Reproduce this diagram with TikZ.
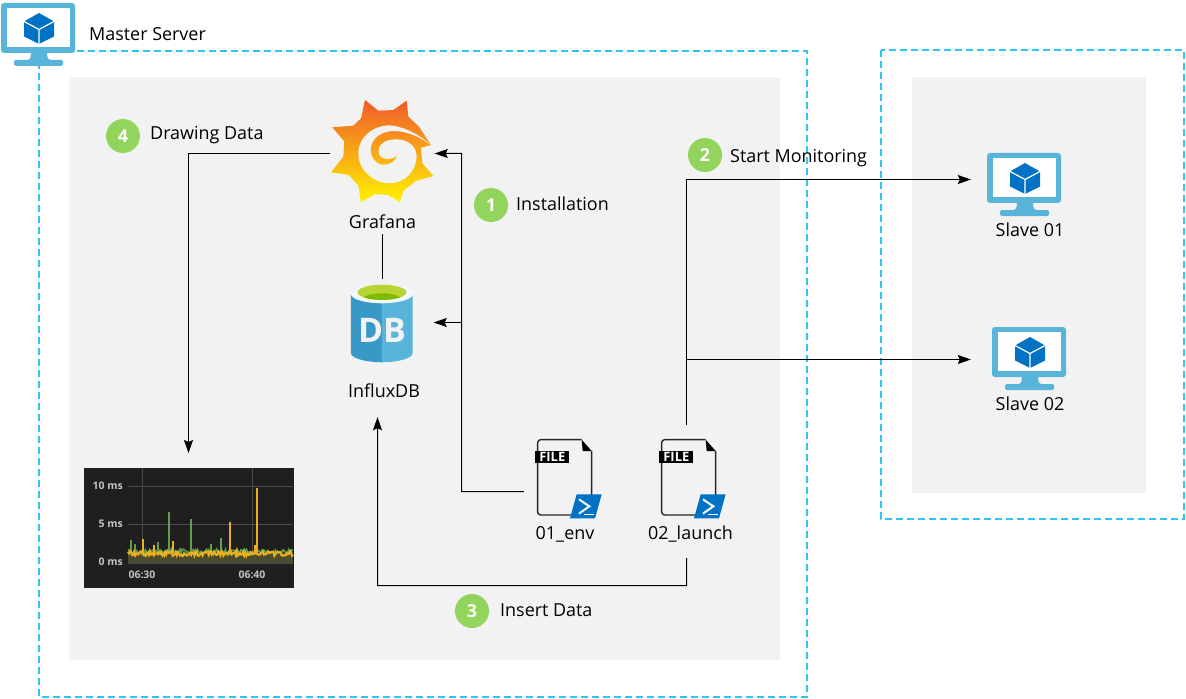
\documentclass[tikz,border=0pt]{standalone}
\usepackage{fontspec}
\setmainfont{Open Sans}
\usetikzlibrary{arrows.meta}
\definecolor{dashc}{HTML}{2FC6F6}
\definecolor{panel}{HTML}{F2F2F2}
\definecolor{azl}{HTML}{59B4D9}
\definecolor{azd}{HTML}{3999C6}
\definecolor{azb}{HTML}{0072C6}
\definecolor{stepg}{HTML}{92D45C}
\definecolor{charbg}{HTML}{1F1F20}
\definecolor{gridc}{HTML}{4A4A4C}
\definecolor{chartx}{HTML}{C4C4C4}
\definecolor{sgreen}{HTML}{5FA04E}
\definecolor{syellow}{HTML}{EAB020}
\definecolor{limeA}{HTML}{B8D432}
\definecolor{limeB}{HTML}{7FBA00}
\definecolor{grafT}{HTML}{F15B2A}
\definecolor{grafM}{HTML}{FBA31C}
\definecolor{grafB}{HTML}{FFF200}
\definecolor{bandc}{HTML}{4C4A2C}
\tikzset{
  dashbox/.style={draw=dashc,line width=1.2bp,dash pattern=on 7bp off 4bp,fill=none},
  panelbox/.style={fill=panel,draw=none},
  arr/.style={draw=black,line width=1bp,-{Stealth[length=13bp,width=9bp,inset=2bp]}},
  link/.style={draw=black,line width=1bp},
  txt/.style={font=\fontsize{18}{20}\selectfont,text=black,inner sep=0pt},
  lab/.style={txt,align=center,minimum width=20bp},
  stepdot/.style={circle,fill=stepg,draw=none,minimum size=34bp,inner sep=0pt,text=white,font=\fontsize{18}{20}\selectfont\bfseries},
  iconbox/.style={draw=none,fill=none,inner sep=0pt},
  ctext/.style={text=chartx,inner sep=0pt,font=\fontsize{10.5}{11}\selectfont\bfseries},
  monitorpic/.pic={
    \fill[azl,rounded corners=3bp] (0,0) rectangle (74,50);
    \fill[white] (6,5) rectangle (69,44);
    \fill[azl] (30,49) -- (46,49) .. controls (46,55) and (47,57) .. (50,57) -- (30,57) -- (26,57) .. controls (29,57) and (30,55) .. (30,49) -- cycle;
    \fill[azl,rounded corners=1.5bp] (13,57) rectangle (62,63);
    \fill[azb] (38,10) -- (53,18.5) -- (53,33.5) -- (38,41) -- (23,33.5) -- (23,18.5) -- cycle;
    \draw[white,line width=1.2bp] (23,18.5) -- (38,26.5) -- (53,18.5) (38,26.5) -- (38,41);
  },
  filepic/.pic={
    \begin{scope}[x=.3333bp,y=-.3333bp]
      \draw[black!85,line width=1.4bp,rounded corners=3bp,line join=round] (155,14) -- (23,14) -- (23,240) -- (185,240) -- (185,48);
      \fill[black] (155,14) -- (185,48) -- (158,48) -- cycle;
      \fill[black] (15,48) rectangle (118,84);
      \node[iconbox,text=white,font=\fontsize{13}{13}\selectfont\bfseries] (badge) at (67,66) {FILE};
      \fill[azb] (140,178) -- (215,178) -- (195,250) -- (120,250) -- cycle;
      \draw[white,line width=2bp] (147,193) -- (178,214) -- (147,236);
      \draw[white,line width=1.6bp] (163,238) -- (193,238);
    \end{scope}
  },
  grafanapic/.pic={
    \begin{scope}[x=.3333bp,y=-.3333bp]
      \shade[top color=grafT,middle color=grafM,bottom color=grafB,line join=round]
        (120,15) -- (160,47) -- (205,45) -- (245,17) -- (250,65) -- (282,95) -- (318,150) -- (288,158) -- (292,205) -- (325,243) -- (272,258) -- (235,288) -- (225,322) -- (190,300) -- (150,297) -- (108,322) -- (100,272) -- (72,240) -- (18,232) -- (55,185) -- (58,140) -- (22,97) -- (85,92) -- (108,70) -- cycle;
      \fill[panel]
        (318,150) .. controls (290,125) and (250,100) .. (205,92)
        .. controls (150,85) and (100,125) .. (100,175)
        .. controls (100,225) and (145,265) .. (195,265)
        .. controls (240,265) and (275,225) .. (275,185)
        .. controls (275,150) and (245,133) .. (212,133)
        .. controls (180,133) and (160,150) .. (160,168)
        .. controls (160,185) and (175,193) .. (190,192)
        .. controls (202,191) and (212,187) .. (216,179)
        .. controls (214,198) and (195,211) .. (172,209)
        .. controls (150,207) and (137,185) .. (137,165)
        .. controls (137,130) and (170,108) .. (207,108)
        .. controls (250,108) and (290,130) .. (318,150) -- cycle;
    \end{scope}
  },
  dbpic/.pic={
    \begin{scope}[x=.3333bp,y=-.3333bp]
      \fill[azd] (93,612) -- (93,790) .. controls (93,805) and (140,817) .. (186,817) -- (186,612) -- cycle;
      \fill[azl] (278,612) -- (278,790) .. controls (278,805) and (232,817) .. (186,817) -- (186,612) -- cycle;
      \fill[white!92!azl] (186,612) ellipse [x radius=31bp,y radius=9.3bp];
      \fill[limeA] (186,607) ellipse [x radius=24.5bp,y radius=7.6bp];
      \begin{scope}
        \clip (186,607) ellipse [x radius=24.5bp,y radius=7.6bp];
        \fill[limeB] (186,631) ellipse [x radius=20bp,y radius=7bp];
      \end{scope}
      \node[iconbox,text=panel,font=\fontsize{34}{34}\selectfont\bfseries] (dbtxt) at (186,720) {DB};
    \end{scope}
  }
}
\begin{document}
\begin{tikzpicture}[x=1bp,y=-1bp]
\useasboundingbox (0,0) rectangle (1186,699);
\fill[white] (0,0) rectangle (1186,699);
% frames
\draw[dashbox] (39,51) rectangle (807,697);
\fill[panelbox] (69,77) rectangle (780,660);
\draw[dashbox] (881,50) rectangle (1184,519);
\fill[panelbox] (912,77) rectangle (1146,493);
% chart
\node[iconbox,fill=charbg,minimum width=210bp,minimum height=120bp] (chart) at (189,528) {};
\begin{scope}
  \draw[gridc,line width=.8bp] (128,486.5) -- (293,486.5) (128,524.5) -- (293,524.5) (128,563.5) -- (293,563.5) (142.5,468) -- (142.5,563) (252.5,468) -- (252.5,563);
  \fill[bandc] (128,553) rectangle (293,563);
  \pgfmathsetseed{4711}
  \draw[sgreen,line width=1.5bp] (169,553) -- (169,512) (191,553) -- (191,519) (221,553) -- (221,538) (131,553) -- (131,540) (158,553) -- (158,542) (211,553) -- (211,544) (135,553) -- (135,544);
  \draw[sgreen,line width=1.5bp] plot[domain=128:293,samples=150] (\x,{551+5*rnd-2});
  \draw[syellow,line width=1.5bp] (257,553) -- (257,488) (230,553) -- (230,522) (143,553) -- (143,539) (173,553) -- (173,541) (154,553) -- (154,545) (255,553) -- (255,545);
  \draw[syellow,line width=2bp] plot[domain=128:293,samples=160] (\x,{553+5*rnd-2});
  \node[ctext,anchor=east] (t10) at (123,486) {10 ms};
  \node[ctext,anchor=east] (t5) at (123,524) {5 ms};
  \node[ctext,anchor=east] (t0) at (123,562) {0 ms};
  \node[ctext] (t630) at (142,575) {06:30};
  \node[ctext] (t640) at (252,575) {06:40};
\end{scope}
% icons
\pic at (1,3) {monitorpic};
\node[iconbox,minimum width=104bp,minimum height=104bp] (grafana) at (382.5,153.5) {};
\pic at (325,95) {grafanapic};
\node[iconbox,minimum width=102bp,minimum height=86bp] (influx) at (382.5,322.5) {};
\pic at (320,90) {dbpic};
\node[iconbox,minimum width=82bp,minimum height=78bp] (env) at (565,479.5) {};
\pic at (530,435) {filepic};
\node[iconbox,minimum width=80bp,minimum height=110bp] (launch) at (686.5,480) {};
\pic at (654,435) {filepic};
\node[iconbox,minimum width=106bp,minimum height=74bp] (slaveA) at (1024,179.5) {};
\pic at (987,153) {monitorpic};
\node[iconbox,minimum width=116bp,minimum height=62bp] (slaveB) at (1029,359.5) {};
\pic at (992,327) {monitorpic};
% labels
\node[txt,anchor=west] (master) at (89,34) {Master Server};
\node[lab,minimum height=24bp] (grafanaL) at (382.5,222) {Grafana};
\node[lab,minimum height=52bp] (influxL) at (384,391) {InfluxDB};
\node[lab] (envL) at (565,534) {01\_env};
\node[lab,minimum height=48bp] (launchL) at (690.5,534) {02\_launch};
\node[lab] (slaveAL) at (1030,230) {Slave 01};
\node[lab] (slaveBL) at (1030,404) {Slave 02};
\node[stepdot] (s4) at (123,136) {4};
\node[txt,anchor=west] (s4L) at (150,135) {Drawing Data};
\node[stepdot] (s1) at (491,205) {1};
\node[txt,anchor=west] (s1L) at (516,204) {Installation};
\node[stepdot] (s2) at (705,155) {2};
\node[txt,anchor=west] (s2L) at (730,158) {Start Monitoring};
\node[stepdot] (s3) at (472,611) {3};
\node[txt,anchor=west] (s3L) at (500,610) {Insert Data};
% connectors
\coordinate (turnA) at (461.5,491.5);
\coordinate (turnB) at (188.5,153.5);
\coordinate (chartin) at (188.5,453);
\coordinate (turnC) at (377.5,585.5);
\coordinate (junA) at (461.5,322.5);
\coordinate (junB) at (686.5,359.5);
\draw[arr] ([yshift=-12bp]env.west) -- (turnA) |- (grafana.east);
\draw[arr] (junA) -- (influx.east);
\draw[arr] (launch.north) |- (slaveA.west);
\draw[arr] (junB) -- (slaveB.west);
\draw[arr] ([xshift=-4bp]launchL.south) |- (turnC) -- ([xshift=-6.5bp]influxL.south);
\draw[arr] (grafana.west) -- (turnB) -- (chartin);
\draw[link] (grafanaL.south) -- (influx.north);
\end{tikzpicture}
\end{document}
